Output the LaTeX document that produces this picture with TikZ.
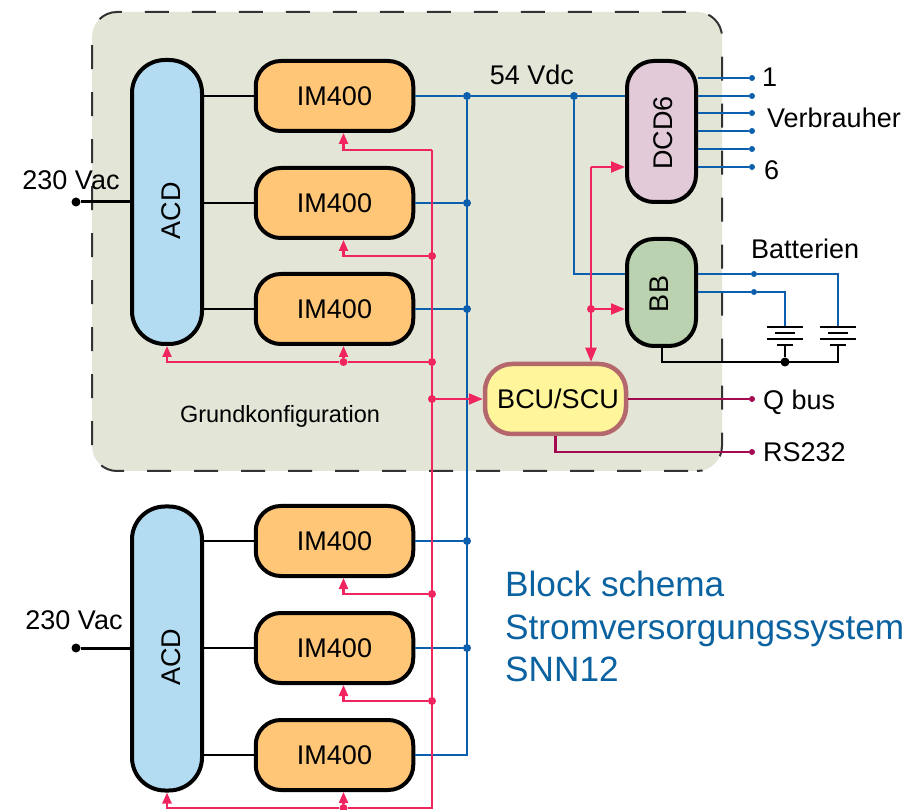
\documentclass[tikz,border=0pt]{standalone}
\usepackage{fontspec}
\usepackage{graphicx}
\setmainfont{Liberation Sans}
\usetikzlibrary{arrows.meta}
\definecolor{frameFill}{HTML}{E3E5D7}
\definecolor{acdFill}{HTML}{B3DCF2}
\definecolor{imFill}{HTML}{FFC677}
\definecolor{dcdFill}{HTML}{E2CAD8}
\definecolor{bbFill}{HTML}{BBD2B0}
\definecolor{bcuFill}{HTML}{FFF59B}
\definecolor{bcuLine}{HTML}{B5686B}
\definecolor{powerLine}{HTML}{0B5FAC}
\definecolor{ctrlLine}{HTML}{F0245E}
\definecolor{busLine}{HTML}{A50A50}
\definecolor{titleBlue}{HTML}{0B62A0}
\tikzset{
	unit/.style={draw=black, line width=4pt, inner sep=0pt, font=\fontsize{27}{30}\selectfont},
	acd/.style={unit, fill=acdFill, minimum width=70pt, minimum height=284pt, rounded corners=33pt},
	im/.style={unit, fill=imFill, minimum width=157.5pt, minimum height=70pt, rounded corners=25pt},
	label/.style={inner sep=0pt, font=\fontsize{27}{30}\selectfont},
	dot/.style={circle, inner sep=0pt, minimum size=#1, fill},
	dot/.default=9pt,
	frameline/.style={line width=2pt, draw=black!80, dash pattern=on 24pt off 23pt, rounded corners=25pt},
	power/.style={draw=powerLine, line width=2.2pt},
	ctrl/.style={draw=ctrlLine, line width=2.2pt},
	ctrlin/.style={ctrl, -{Triangle[length=11pt, width=9pt]}},
	ctrlbig/.style={ctrl, -{Triangle[length=14pt, width=11pt]}},
	bus/.style={draw=busLine, line width=2.2pt},
	mains/.style={draw=black, line width=2pt},
}
\begin{document}
\begin{tikzpicture}[x=1pt, y=-1pt]
	\useasboundingbox (0, 0) rectangle (906, 810);
	% frame of the base configuration
	\fill[frameFill] (92, 12) [rounded corners=25pt] rectangle (722, 471);
	\draw[frameline, dash phase=27pt] (92, 37) -- (92, 12) -- (722, 12) -- (722, 471) -- (697, 471);
	\draw[frameline, dash phase=38pt] (697, 471) -- (92, 471) -- (92, 37);

	% units
	\node[acd] (acdA) at (167, 202) {};
	\node[im] (imA) at (334.5, 96) {IM400};
	\node[im] (imB) at (334.5, 203) {IM400};
	\node[im] (imC) at (334.5, 309) {IM400};
	\node[acd] (acdB) at (167, 648.5) {};
	\node[im] (imD) at (334.5, 541) {IM400};
	\node[im] (imE) at (334.5, 648) {IM400};
	\node[im] (imF) at (334.5, 755) {IM400};
	\node[unit, fill=dcdFill, minimum width=69pt, minimum height=141pt, rounded corners=27pt] (dcd) at (661.5, 131.5) {};
	\node[unit, fill=bbFill, minimum width=69pt, minimum height=107pt, rounded corners=27pt] (bb) at (661.5, 292.5) {};
	\node[unit, draw=bcuLine, line width=4.5pt, fill=bcuFill, minimum width=141pt, minimum height=70pt, rounded corners=27pt] (bcu) at (555.5, 399) {\kern5pt BCU/SCU};
	\node[label, rotate=90] (acdAtext) at (171, 211) {ACD};
	\node[label, rotate=90] (acdBtext) at (171, 657) {ACD};
	\node[label, rotate=90] (dcdtext) at (663, 133) {DCD6};
	\node[label, rotate=90] (bbtext) at (659, 294) {BB};

	% mains side
	\node[dot=9pt] (acA) at (76, 202) {};
	\node[dot=9pt] (acB) at (76, 648) {};
	\draw[line width=3pt] (acA) -- (acA -| acdA.west);
	\draw[line width=3pt] (acB) -- (acB -| acdB.west);
	\foreach \a/\b in {acdA/imA, acdA/imB, acdA/imC, acdB/imD, acdB/imE, acdB/imF}
		\draw[mains] (\b.west -| \a.east) -- (\b.west);

	% 54 V rail
	\node[dot=8pt, powerLine] (railA) at (467, 96) {};
	\node[dot=8pt, powerLine] (railB) at (467, 203) {};
	\node[dot=8pt, powerLine] (railC) at (467, 309) {};
	\node[dot=8pt, powerLine] (railD) at (467, 541) {};
	\node[dot=8pt, powerLine] (railE) at (467, 648) {};
	\coordinate (railF) at (467, 755);
	\node[dot=8pt, powerLine] (railTap) at (574, 96) {};
	\draw[power] (imA) -- (railA);
	\draw[power] (imB) -- (railB);
	\draw[power] (imC) -- (railC);
	\draw[power] (imD) -- (railD);
	\draw[power] (imE) -- (railE);
	\draw[power] (imF.east) -- (railF) -- (railA);
	\draw[power] (railA) -- (railA -| dcd.west);
	\draw[power] (railTap) |- (bb.west |- 0, 274);

	% consumers
	\foreach \n/\y in {a/78, b/96, c/113, d/131, e/149, f/167} {
		\node[dot=6pt, powerLine] (out\n) at (752, \y) {};
		\draw[power] (dcd.east |- out\n) -- (out\n);
	}

	% batteries
	\node[dot=6pt, powerLine] (batP) at (754, 274) {};
	\node[dot=6pt, powerLine] (batQ) at (754, 292) {};
	\coordinate (cellP) at (838, 327);
	\coordinate (cellQ) at (785, 327);
	\node[dot=9pt] (gnd) at (785, 362) {};
	\draw[power] (bb.east |- batP) -- (batP) -| (cellP);
	\draw[power] (bb.east |- batQ) -- (batQ) -| (cellQ);
	\foreach \x in {785, 838} {
		\draw[line width=2pt] (\x-18, 327) -- (\x+18, 327);
		\draw[line width=2pt] (\x-10, 333) -- (\x+10, 333);
		\draw[line width=2pt] (\x-18, 339) -- (\x+18, 339);
		\draw[line width=2pt] (\x-8, 345) -- (\x+8, 345);
	}
	\draw[line width=2pt] (bb.south) |- (838, 362) -- (838, 345);
	\draw[line width=2pt] (gnd) -- (785, 345);

	% control lines
	\node[dot=8pt, ctrlLine] (ctlB) at (432, 256) {};
	\node[dot=8pt, ctrlLine] (ctlC) at (432, 362) {};
	\node[dot=8pt, ctrlLine] (ctlBcu) at (432, 399) {};
	\node[dot=8pt, ctrlLine] (ctlE) at (432, 594) {};
	\node[dot=8pt, ctrlLine] (ctlF) at (432, 701) {};
	\node[dot=8pt, ctrlLine] (tapC) at (343.5, 362) {};
	\node[dot=8pt, ctrlLine] (tapF) at (343.5, 808) {};
	\coordinate (ctlTop) at (432, 150);
	\coordinate (ctlEnd) at (432, 808);
	\draw[ctrl] (ctlTop) -- (ctlEnd) -- (tapF);
	\draw[ctrlin] (ctlTop) -| ([xshift=9pt]imA.south);
	\draw[ctrlin] (ctlB) -| ([xshift=9pt]imB.south);
	\draw[ctrlin] (tapC) -- ([xshift=9pt]imC.south);
	\draw[ctrlin] (ctlC) -- (tapC) -| (acdA.south);
	\draw[ctrlin] (ctlE) -| ([xshift=9pt]imD.south);
	\draw[ctrlin] (ctlF) -| ([xshift=9pt]imE.south);
	\draw[ctrlin] (tapF) -- ([xshift=9pt]imF.south);
	\draw[ctrlin] (tapF) -| (acdB.south);
	\draw[ctrlbig] (ctlBcu) -- (bcu.west);
	\node[dot=8pt, ctrlLine] (tapBb) at (591, 309) {};
	\coordinate (tapDcd) at (591, 167);
	\draw[ctrlbig] (tapDcd) -- (tapDcd -| dcd.west);
	\draw[ctrlbig] (tapBb) -- (tapBb -| bb.west);
	\draw[ctrlbig] (tapDcd) -- (tapDcd |- bcu.north);

	% serial buses
	\node[dot=6pt, busLine] (qbus) at (752, 399) {};
	\node[dot=6pt, busLine] (rs) at (752, 452) {};
	\draw[bus] (bcu) -- (qbus);
	\draw[bus] (bcu.south) |- (rs);

	% texts
	\node[label] (lblAcA) at (71, 180) {230 Vac};
	\node[label] (lblAcB) at (74, 620) {230 Vac};
	\node[label] (lblVdc) at (532, 75) {54 Vdc};
	\node[label, anchor=west] (lblOne) at (762, 77) {1};
	\node[label, anchor=west] (lblLoad) at (767, 118) {Verbrauher};
	\node[label, anchor=west] (lblSix) at (764, 170) {6};
	\node[label, anchor=west] (lblBat) at (751, 249) {Batterien};
	\node[label, anchor=west] (lblQ) at (763, 402) {Q bus};
	\node[label, anchor=west] (lblRs) at (763, 452) {RS232};
	\node[inner sep=0pt, font=\fontsize{23.5}{26}\selectfont] (lblBase) at (280, 416) {Grundkonfiguration};
	\node[inner sep=0pt, anchor=north west, align=left, text=titleBlue, font=\fontsize{35.2}{42.5}\selectfont] (title) at (505, 571) {Block schema\\Stromversorgungssystem\\SNN12};
\end{tikzpicture}
\end{document}
